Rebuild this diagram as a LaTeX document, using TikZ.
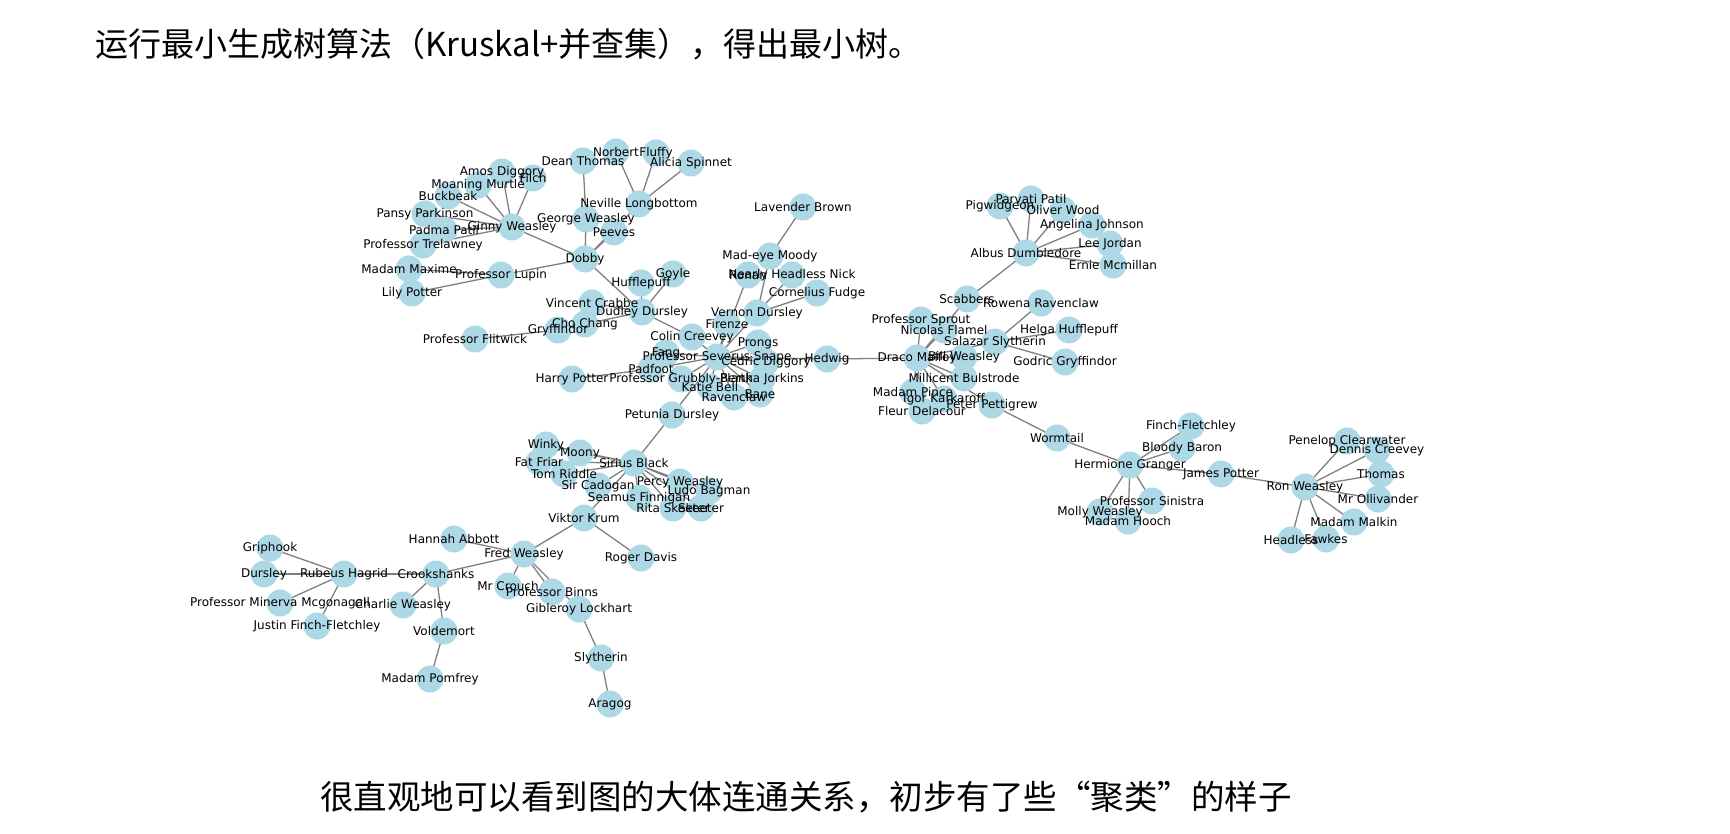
\documentclass[tikz,border=0pt]{standalone}
\usepackage{fontspec}
\setmainfont{DejaVu Sans}
\newfontfamily\cjk{Noto Sans CJK SC}
\newfontfamily\cjkfw[CharacterWidth=Full]{Noto Sans CJK SC}
\definecolor{nodeblue}{RGB}{173,216,230}
\definecolor{edgegray}{RGB}{128,128,128}
\pgfdeclarelayer{bg}
\pgfsetlayers{bg,main}
\tikzset{
  vert/.style={circle, fill=nodeblue, minimum size=27pt, inner sep=0pt, draw=none},
  vlab/.style={inner sep=0pt, font=\fontsize{12}{14}\selectfont, text=black},
  link/.style={draw=edgegray, line width=1.3pt},
  headtext/.style={inner sep=0pt, anchor=west, font=\cjk\fontsize{33}{40}\selectfont},
  foottext/.style={inner sep=0pt, anchor=west, font=\cjkfw\fontsize{33.5}{40}\selectfont}
}
\def\vlist{%
amos/502/172/Amos Diggory, filch/533/178/Filch, moaning/478/185/Moaning Murtle,
buckbeak/448/196/Buckbeak, pansy/425/214/Pansy Parkinson, padma/444/230/Padma Patil,
ginny/512/227/Ginny Weasley, trelawney/423/245/Professor Trelawney, maxime/409/269/Madam Maxime,
lily/412/293/Lily Potter, lupin/501/275/Professor Lupin, dobby/585/259/Dobby,
dean/583/161/Dean Thomas, norbert/616/152/Norbert, fluffy/656/153/Fluffy,
alicia/691/163/Alicia Spinnet, neville/639/204/Neville Longbottom, george/586/219/George Weasley,
peeves/614/232/Peeves, hufflepuff/641/283/Hufflepuff, goyle/673/274/Goyle,
crabbe/592/303/Vincent Crabbe, dudley/642/312/Dudley Dursley, cho/585/324/Cho Chang,
gryffindor/558/330/Gryffindor, flitwick/475/339/Professor Flitwick, colin/692/337/Colin Creevey,
harry/572/379/Harry Potter, padfoot/651/369/Padfoot, grubbly/681/379/Professor Grubbly-Plank,
fang/666/353/Fang, snape/717/357/Professor Severus Snape, firenze/727/324/Firenze,
vernon/757/313/Vernon Dursley, prongs/758/343/Prongs, cedric/766/362/Cedric Diggory,
bertha/762/379/Bertha Jorkins, katie/710/387/Katie Bell, ravenclaw/734/397/Ravenclaw,
bane/760/394/Bane, petunia/672/415/Petunia Dursley, ronan/748/275/Ronan,
nick/792/275/Nearly Headless Nick, mad/770/256/Mad-eye Moody, lavender/803/207/Lavender Brown,
fudge/817/293/Cornelius Fudge, hedwig/827/359/Hedwig,
draco/917/358/Draco Malfoy, sprout/921/320/Professor Sprout, flamel/944/330/Nicolas Flamel,
bill/964/357/Bill Weasley, salazar/995/342/Salazar Slytherin, millicent/964/378/Millicent Bulstrode,
pince/913/392/Madam Pince, igor/944/399/Igor Karkaroff, fleur/922/411/Fleur Delacour,
pettigrew/992/405/Peter Pettigrew, scabbers/967/299/Scabbers, rowena/1041/303/Rowena Ravenclaw,
helga/1069/330/Helga Hufflepuff, godric/1065/362/Godric Gryffindor, dumbledore/1026/253/Albus Dumbledore,
pig/1000/206/Pigwidgeon, parvati/1031/199/Parvati Patil, oliver/1063/210/Oliver Wood,
angelina/1092/225/Angelina Johnson, lee/1110/244/Lee Jordan, ernie/1113/265/Ernie Mcmillan,
wormtail/1057/438/Wormtail, finchf/1191/426/Finch-Fletchley, baron/1182/448/Bloody Baron,
hermione/1130/465/Hermione Granger, james/1221/474/James Potter, ron/1305/487/Ron Weasley,
sinistra/1152/501/Professor Sinistra, molly/1100/512/Molly Weasley, hooch/1128/521/Madam Hooch,
penelop/1347/441/Penelop Clearwater, dennis/1377/450/Dennis Creevey, thomas/1381/474/Thomas,
ollivander/1378/499/Mr Ollivander, malkin/1354/522/Madam Malkin, fawkes/1326/539/Fawkes,
headless/1291/540/Headless,
winky/546/445/Winky, moony/580/453/Moony, fatfriar/539/462/Fat Friar,
sirius/634/463/Sirius Black, tomriddle/564/474/Tom Riddle, cadogan/598/486/Sir Cadogan,
percy/680/482/Percy Weasley, ludo/709/491/Ludo Bagman, seamus/639/498/Seamus Finnigan,
rita/673/508/Rita Skeeter, skeeter/701/508/Skeeter, viktor/584/518/Viktor Krum,
roger/641/558/Roger Davis,
griphook/270/548/Griphook, dursley/264/574/Dursley, hagrid/344/574/Rubeus Hagrid,
mcgonagall/280/603/Professor Minerva Mcgonagall, justin/317/626/Justin Finch-Fletchley,
crookshanks/436/574/Crookshanks, hannah/454/539/Hannah Abbott, fred/524/554/Fred Weasley,
charlie/403/605/Charlie Weasley, crouch/508/586/Mr Crouch, binns/552/592/Professor Binns,
lockhart/579/609/Gibleroy Lockhart, voldemort/444/631/Voldemort, pomfrey/430/679/Madam Pomfrey,
slytherin/601/658/Slytherin, aragog/610/704/Aragog}
\def\elist{%
ginny/amos, ginny/moaning, ginny/filch, ginny/buckbeak, ginny/pansy, ginny/padma, ginny/trelawney, ginny/dobby,
dobby/george, george/dean, dobby/peeves, dobby/neville, neville/norbert, neville/fluffy, neville/alicia,
dobby/lupin, lupin/lily, lupin/maxime,
dobby/dudley, dudley/hufflepuff, dudley/goyle, dudley/crabbe, dudley/cho, cho/gryffindor, gryffindor/flitwick, dudley/colin,
colin/snape, snape/fang, snape/padfoot, harry/padfoot, snape/grubbly, snape/katie, snape/ravenclaw, snape/bane,
snape/bertha, snape/cedric, snape/prongs, snape/firenze, snape/vernon, snape/ronan, snape/hedwig, snape/petunia,
vernon/mad, mad/lavender, vernon/nick, vernon/fudge,
hedwig/draco,
draco/scabbers, scabbers/dumbledore, dumbledore/pig, dumbledore/parvati, dumbledore/oliver, dumbledore/angelina,
dumbledore/lee, dumbledore/ernie,
draco/sprout, draco/flamel, draco/salazar, draco/bill, draco/millicent, draco/pince, draco/igor, draco/fleur, draco/pettigrew,
salazar/rowena, salazar/helga, salazar/godric,
pettigrew/wormtail, wormtail/hermione, hermione/finchf, hermione/baron, hermione/james, hermione/sinistra,
hermione/molly, hermione/hooch,
james/ron, ron/penelop, ron/dennis, ron/thomas, ron/ollivander, ron/malkin, ron/fawkes, ron/headless,
petunia/sirius, sirius/winky, sirius/moony, sirius/fatfriar, sirius/tomriddle, sirius/cadogan, sirius/percy,
sirius/ludo, sirius/seamus, sirius/rita, sirius/skeeter, sirius/viktor,
viktor/fred, viktor/roger, fred/hannah, fred/crouch, fred/binns, fred/lockhart, fred/crookshanks,
lockhart/slytherin, slytherin/aragog,
crookshanks/hagrid, crookshanks/charlie, crookshanks/voldemort, voldemort/pomfrey,
hagrid/griphook, hagrid/dursley, hagrid/mcgonagall, hagrid/justin}
\begin{document}
\begin{tikzpicture}[x=1pt, y=-1pt]
\useasboundingbox (0,0) rectangle (1730,834);
\node[headtext] (head) at (95,44) {运行最小生成树算法（Kruskal+并查集），得出最小树。};
\node[foottext] (foot) at (320,797) {很直观地可以看到图的大体连通关系，初步有了些“聚类”的样子};
\foreach \n/\x/\y/\t in \vlist {
  \node[vert] (\n) at (\x,\y) {};
}
\begin{pgfonlayer}{bg}
\fill[white] (0,0) rectangle (1730,834);
\foreach \a/\b in \elist {
  \draw[link] (\a.center) -- (\b.center);
}
\end{pgfonlayer}
\foreach \n/\x/\y/\t in \vlist {
  \node[vlab] (\n-t) at (\n.center) {\t};
}
\end{tikzpicture}
\end{document}
